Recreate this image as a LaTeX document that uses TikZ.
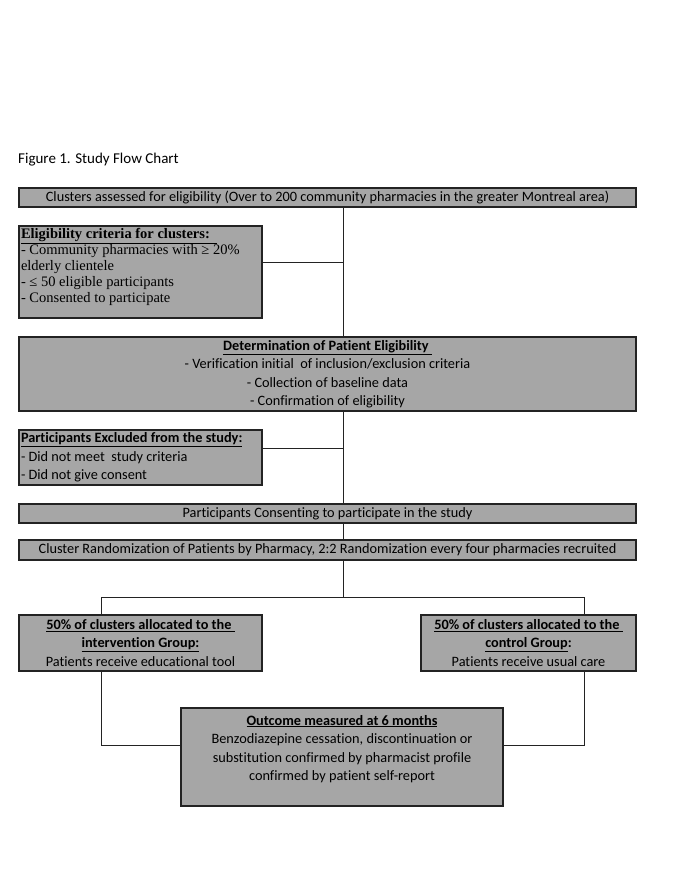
\documentclass[tikz,border=0pt]{standalone}
\usepackage{fontspec}
\setmainfont{Carlito}[Ligatures=NoCommon]
\newfontfamily\critfont{Liberation Serif}
\definecolor{flowfill}{RGB}{166,166,166}
\definecolor{flowline}{RGB}{35,35,35}
\begin{document}
\begin{tikzpicture}[x=1pt, y=-1pt,
		font=\fontsize{14.3}{18.5}\selectfont,
		flowbox/.style={rectangle, draw=flowline, line width=1.3pt, fill=flowfill,
			inner sep=0pt, align=center},
		widebox/.style={flowbox, minimum width=617pt},
		sidebox/.style={flowbox, minimum width=243pt, text width=239pt, inner xsep=2pt, align=flush left},
		link/.style={draw=flowline, line width=0.9pt}
	]
		\useasboundingbox (0,0) rectangle (685,886);
		% title
		\node[anchor=west, inner sep=0pt, font=\fontsize{15}{18}\selectfont] (title) at (18,160) {Figure 1. Study Flow Chart};
		% main column
		\node[widebox, minimum height=19pt] (CLU) at (327.5,197.5)
			{Clusters assessed for eligibility (Over to 200 community pharmacies in the greater Montreal area)};
		\node[sidebox, minimum height=92pt, font=\critfont\fontsize{14.5}{16}\selectfont] (CRIT) at (140.5,272)
			{\underline{\textbf{Eligibility criteria for clusters:\ \ }}\\- Community pharmacies with ≥ 20\%\\elderly clientele\\- ≤ 50 eligible participants\\- Consented to participate\\[-2pt]\mbox{}};
		\node[widebox, minimum height=74pt] (DET) at (327.5,374)
			{\underline{\textbf{Determination of Patient Eligibility\ }}\\- Verification initial\ \ of inclusion/exclusion criteria\\- Collection of baseline data\\- Confirmation of eligibility};
		\node[sidebox, minimum height=55pt] (EXC) at (140.5,457.5)
			{\underline{\textbf{Participants Excluded from the study:}}\\- Did not meet\ \ study criteria\\- Did not give consent};
		\node[widebox, minimum height=19pt] (CONS) at (327.5,513.5)
			{Participants Consenting to participate in the study};
		\node[widebox, minimum height=20pt] (RAND) at (327.5,550)
			{Cluster Randomization of Patients by Pharmacy, 2:2 Randomization every four pharmacies recruited};
		% arms
		\node[flowbox, minimum width=243pt, minimum height=56pt] (INTV) at (140.5,643)
			{\underline{\textbf{50\% of clusters allocated to the\ }}\\\underline{\textbf{intervention Group:}}\\Patients receive educational tool};
		\node[flowbox, minimum width=215pt, minimum height=56pt] (CTRL) at (528.5,643)
			{\underline{\textbf{50\% of clusters allocated to the\ }}\\\underline{\textbf{control Group}}\textbf{:}\\Patients receive usual care};
		% outcome
		\node[flowbox, minimum width=322pt, minimum height=98pt] (OUT) at (342,757)
			{\underline{\textbf{Outcome measured at 6 months}}\\Benzodiazepine cessation, discontinuation or\\substitution confirmed by pharmacist profile\\confirmed by patient self-report\\\mbox{}};
		% spine and split points
		\coordinate (spine) at (343,0);
		\coordinate (lsplit) at (101,597);
		\coordinate (rsplit) at (584,597);
		% vertical spine
		\draw[link] (CLU.south -| spine) -- (DET.north -| spine);
		\draw[link] (DET.south -| spine) -- (CONS.north -| spine);
		\draw[link] (CONS.south -| spine) -- (RAND.north -| spine);
		\draw[link] (RAND.south -| spine) -- (spine |- lsplit);
		% side boxes
		\draw[link] ([yshift=10pt]CRIT.east) -- ([yshift=10pt]CRIT.east -| spine);
		\draw[link] ([yshift=9.5pt]EXC.east) -- ([yshift=9.5pt]EXC.east -| spine);
		% split into arms
		\draw[link] (lsplit) -- (rsplit);
		\draw[link] (lsplit) -- (INTV.north -| lsplit);
		\draw[link] (rsplit) -- (CTRL.north -| rsplit);
		% arms to outcome
		\draw[link] (INTV.south -| lsplit) |- ([yshift=12pt]OUT.west);
		\draw[link] (CTRL.south -| rsplit) |- ([yshift=12pt]OUT.east);
	\end{tikzpicture}
\end{document}
